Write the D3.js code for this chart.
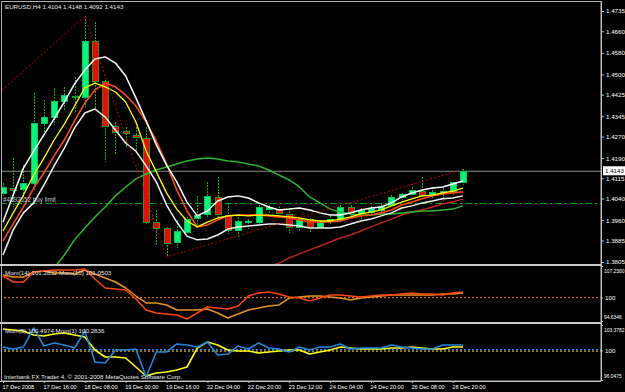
<!DOCTYPE html>
<html><head><meta charset="utf-8">
<script src="https://cdn.jsdelivr.net/npm/d3@7/dist/d3.min.js"></script>
<style>html,body{margin:0;padding:0;background:#000;}svg{display:block;}</style>
</head><body><svg id="c" width="625" height="392"></svg>
<script>
// ---------- DATA ----------
const timeLabels = ["17 Dec 2008","17 Dec 16:00","18 Dec 08:00","19 Dec 00:00","19 Dec 16:00","22 Dec 04:00","22 Dec 20:00","23 Dec 12:00","24 Dec 04:00","24 Dec 20:00","26 Dec 08:00","28 Dec 20:00"];
const timeTickBars = [0,4,8,12,16,20,24,28,32,36,40,44];
const priceTicks = [1.4735,1.4660,1.4580,1.4500,1.4425,1.4345,1.4270,1.4190,1.4115,1.4040,1.3960,1.3885,1.3805];

const opens = [1.4061,1.4079,1.4076,1.4098,1.4320,1.4342,1.4402,1.4420,1.4416,1.4624,1.4476,1.4309,1.4290,1.4276,1.4265,1.3953,1.3931,1.3879,1.3916,1.3968,1.3983,1.4046,1.3979,1.3924,1.3953,1.3953,1.4001,1.4001,1.3983,1.3935,1.3964,1.3935,1.3957,1.3961,1.4009,1.3987,1.3990,1.3998,1.4016,1.4046,1.4057,1.4068,1.4057,1.4061,1.4064,1.4104];
const highs = [1.4098,1.4190,1.4164,1.4431,1.4405,1.4450,1.4453,1.4491,1.4716,1.4694,1.4479,1.4324,1.4305,1.4305,1.4305,1.3998,1.3935,1.3961,1.3972,1.4050,1.4101,1.4120,1.4024,1.3972,1.3964,1.4016,1.4016,1.4012,1.4005,1.3972,1.3968,1.3961,1.3975,1.4016,1.4016,1.4005,1.4012,1.4020,1.4053,1.4061,1.4083,1.4120,1.4083,1.4079,1.4101,1.4148];
const lows = [1.4050,1.4009,1.4046,1.4072,1.4287,1.4313,1.4368,1.4357,1.4379,1.4368,1.4176,1.4202,1.4231,1.4220,1.3946,1.3868,1.3824,1.3857,1.3913,1.3935,1.3972,1.3972,1.3909,1.3898,1.3927,1.3946,1.3987,1.3968,1.3913,1.3916,1.3913,1.3931,1.3942,1.3953,1.3972,1.3961,1.3983,1.3987,1.4009,1.4035,1.4053,1.4042,1.4042,1.4031,1.4053,1.4092];
const closes = [1.4083,1.4072,1.4098,1.4320,1.4342,1.4402,1.4424,1.4416,1.4624,1.4476,1.4309,1.4287,1.4283,1.4268,1.3953,1.3931,1.3875,1.3920,1.3964,1.3979,1.4050,1.3983,1.3924,1.3957,1.3958,1.4009,1.4009,1.3987,1.3935,1.3964,1.3935,1.3953,1.3964,1.4009,1.3990,1.3998,1.4005,1.4012,1.4046,1.4057,1.4072,1.4053,1.4064,1.4068,1.4101,1.4143];

const envUpper = [1.3953,1.4053,1.4153,1.4216,1.4276,1.4335,1.4398,1.4465,1.4516,1.4557,1.4565,1.4542,1.4494,1.4413,1.4328,1.4239,1.4164,1.4102,1.4027,1.3976,1.3994,1.4031,1.4046,1.4050,1.4042,1.4024,1.4009,1.3998,1.4001,1.4005,1.3998,1.3987,1.3979,1.3979,1.3987,1.3998,1.4005,1.4009,1.4024,1.4046,1.4061,1.4072,1.4079,1.4083,1.4094,1.4105];
const envLower = [1.3831,1.3924,1.3987,1.4024,1.4090,1.4161,1.4227,1.4302,1.4357,1.4372,1.4342,1.4294,1.4246,1.4216,1.4161,1.4102,1.4016,1.3953,1.3901,1.3887,1.3890,1.3905,1.3927,1.3935,1.3938,1.3942,1.3946,1.3946,1.3942,1.3938,1.3931,1.3931,1.3931,1.3935,1.3946,1.3957,1.3964,1.3976,1.3987,1.4005,1.4013,1.4024,1.4031,1.4039,1.4042,1.4050];
const maYellow = [1.3920,1.3987,1.4053,1.4127,1.4190,1.4257,1.4316,1.4383,1.4450,1.4468,1.4454,1.4435,1.4398,1.4324,1.4216,1.4139,1.4061,1.4001,1.3957,1.3935,1.3953,1.3968,1.3976,1.3979,1.3976,1.3979,1.3979,1.3976,1.3972,1.3968,1.3961,1.3957,1.3957,1.3964,1.3972,1.3983,1.3990,1.3998,1.4013,1.4027,1.4039,1.4050,1.4053,1.4061,1.4068,1.4079];
const maOrange = [1.3883,1.3946,1.4009,1.4079,1.4135,1.4198,1.4257,1.4328,1.4394,1.4442,1.4468,1.4454,1.4424,1.4383,1.4324,1.4253,1.4168,1.4072,1.3994,1.3935,1.3942,1.3961,1.3976,1.3979,1.3979,1.3979,1.3976,1.3972,1.3968,1.3961,1.3953,1.3953,1.3953,1.3957,1.3968,1.3976,1.3979,1.3987,1.3998,1.4016,1.4027,1.4039,1.4050,1.4057,1.4061,1.4065];
const maGreenStart = 5;
const maGreen = [1.3783,1.3831,1.3887,1.3931,1.3972,1.4009,1.4050,1.4083,1.4113,1.4131,1.4146,1.4157,1.4168,1.4179,1.4187,1.4190,1.4187,1.4179,1.4176,1.4168,1.4161,1.4146,1.4127,1.4109,1.4083,1.4046,1.4024,1.4001,1.3990,1.3983,1.3979,1.3979,1.3983,1.3983,1.3987,1.3990,1.3994,1.3994,1.3998,1.4001,1.4013];
const maDarkRedStart = 26;
const maDarkRed = [1.3787,1.3801,1.3820,1.3835,1.3850,1.3864,1.3879,1.3894,1.3905,1.3920,1.3935,1.3950,1.3964,1.3979,1.3990,1.3998,1.4009,1.4020,1.4027,1.4039];
const zigzagBars = [-10, 8, 16, 45];
const zigzagPrices = [1.4105, 1.4716, 1.3824, 1.4148];
const bidPrice = 1.4143;
const buyLimitPrice = 1.4025;

const mom14 = [104.94,103.57,103.57,105.86,106.09,106.31,106.31,106.31,106.54,104.25,102.19,101.96,101.73,99.67,97.15,96.47,96.24,96.01,95.09,96.47,97.84,97.61,97.38,98.07,100.36,101.05,101.28,100.82,100.13,99.90,99.21,99.90,100.59,100.59,100.36,100.13,100.36,100.59,100.59,100.82,101.05,100.82,100.82,100.59,101.05,101.28];
const mom10 = [105.17,104.71,104.71,105.86,106.09,105.63,105.63,105.40,106.31,105.40,104.48,103.57,102.19,100.36,98.76,98.76,98.30,97.15,97.15,97.15,97.38,96.47,95.32,96.24,97.15,97.61,98.07,98.30,99.90,100.13,100.36,100.36,100.13,99.90,99.44,99.90,100.13,100.36,100.59,100.59,100.59,100.59,100.59,100.82,100.82,101.05];
const mom1 = [100.45,100.18,100.45,102.98,100.58,100.98,100.71,100.31,102.58,98.45,98.31,100.05,100.05,100.18,96.45,99.78,99.78,100.85,100.71,100.45,101.11,99.38,99.51,100.58,100.18,100.98,100.31,100.18,99.78,100.45,100.05,100.45,100.45,100.85,100.18,100.31,100.31,100.31,100.71,100.45,100.31,100.18,100.18,100.71,100.71,100.71];
const mom5 = [102.85,102.71,102.58,102.05,101.91,102.18,102.31,102.05,101.78,100.05,99.11,99.11,98.98,97.78,96.58,96.98,97.11,97.38,97.78,100.31,101.11,100.71,100.05,99.91,99.91,99.65,99.78,99.91,100.05,100.05,99.51,99.78,100.05,100.45,100.31,100.18,100.18,100.18,100.31,100.31,100.45,100.31,100.18,100.18,100.45,100.45];
const p1Ticks = [107.2300, 100, 94.6346];
const p2Ticks = [103.3782, 100, 96.0475];
const p2Levels = [100.1, 99.9];

// ---------- DRAW ----------
const svg = d3.select("#c");
const FONT = "'Liberation Sans', Arial, sans-serif";
const AX = 601;
const x = d3.scaleLinear().domain([0, 45]).range([3, 463]);
const y = d3.scaleLinear().domain([1.3805, 1.4735]).range([262, 11]);
const y1 = d3.scaleLinear().domain([94.6346, 107.23]).range([321, 266]);
const y2 = d3.scaleLinear().domain([96.0475, 103.3782]).range([380, 325]);

svg.append("rect").attr("width", 625).attr("height", 392).attr("fill", "#000");
const defs = svg.append("defs");
function clip(id, x0, y0, w, h) {
  defs.append("clipPath").attr("id", id).append("rect").attr("x", x0).attr("y", y0).attr("width", w).attr("height", h);
}
clip("cm", 2, 3, AX - 2, 261);
clip("c1", 2, 266, AX - 2, 56);
clip("c2", 2, 324, AX - 2, 56);

const main = svg.append("g").attr("clip-path", "url(#cm)");

// bid line & buy limit
main.append("line").attr("x1", 0).attr("x2", AX).attr("y1", y(bidPrice) + 0.5).attr("y2", y(bidPrice) + 0.5)
  .attr("stroke", "#8c8c8c").attr("stroke-width", 1);
main.append("line").attr("x1", 0).attr("x2", AX).attr("y1", Math.round(y(buyLimitPrice)) + 0.5).attr("y2", Math.round(y(buyLimitPrice)) + 0.5)
  .attr("stroke", "#00a000").attr("stroke-width", 1).attr("stroke-dasharray", "7,3,2,3");

const idx = d3.range(opens.length);
// candles
const cg = main.append("g").attr("shape-rendering", "crispEdges");
cg.selectAll(".wick").data(idx).join("line")
  .attr("x1", i => Math.round(x(i)) + 0.5).attr("x2", i => Math.round(x(i)) + 0.5)
  .attr("y1", i => y(highs[i])).attr("y2", i => y(lows[i]))
  .attr("stroke", "#10b010").attr("stroke-width", 1).attr("stroke-dasharray", "2,1");
cg.selectAll(".body").data(idx).join("rect")
  .attr("x", i => Math.round(x(i)) - 3 + 0.5)
  .attr("y", i => Math.round(y(Math.max(opens[i], closes[i]))) + 0.5)
  .attr("width", 6)
  .attr("height", i => Math.max(1, Math.round(Math.abs(y(opens[i]) - y(closes[i])))))
  .attr("fill", i => closes[i] >= opens[i] ? "#00f878" : "#ff0000")
  .attr("stroke", i => closes[i] >= opens[i] ? "#00c858" : "#18a018")
  .attr("stroke-width", 1);

// MA lines
function drawLine(g, arr, start, sc, color, w, dash) {
  const ln = d3.line().x((d, k) => x(k + start)).y(d => sc(d));
  const p = g.append("path").datum(arr).attr("d", ln).attr("fill", "none")
    .attr("stroke", color).attr("stroke-width", w).attr("stroke-linejoin", "round");
  if (dash) p.attr("stroke-dasharray", dash);
  return p;
}
drawLine(main, maDarkRed, maDarkRedStart, y, "#c02020", 1.5);
drawLine(main, maGreen, maGreenStart, y, "#2cb82c", 1.5);
drawLine(main, envLower, 0, y, "#f0f0f0", 1.5);
drawLine(main, maOrange, 0, y, "#ff4a10", 1.6);
drawLine(main, maYellow, 0, y, "#ffff00", 1.3);
drawLine(main, envUpper, 0, y, "#ffffff", 1.5);
// zigzag
main.append("path").datum(zigzagBars.map((b, k) => [b, zigzagPrices[k]]))
  .attr("d", d3.line().x(d => x(d[0])).y(d => y(d[1])))
  .attr("fill", "none").attr("stroke", "#c00000").attr("stroke-width", 1).attr("stroke-dasharray", "2,2");

main.append("text").attr("x", 3).attr("y", Math.round(y(buyLimitPrice)) - 1)
  .attr("fill", "#b8c4d0").attr("font-family", FONT).attr("font-size", 6.3)
  .text("#4892552 buy limit");

// panel 1
const g1 = svg.append("g").attr("clip-path", "url(#c1)");
g1.append("line").attr("x1", 0).attr("x2", AX).attr("y1", y1(100)).attr("y2", y1(100))
  .attr("stroke", "#d87018").attr("stroke-width", 1.2).attr("stroke-dasharray", "2,2");
drawLine(g1, mom10, 0, y1, "#e8941c", 1.5);
drawLine(g1, mom14, 0, y1, "#ff4410", 1.5);

// panel 2
const g2 = svg.append("g").attr("clip-path", "url(#c2)");
g2.append("line").attr("x1", 0).attr("x2", AX).attr("y1", y2(p2Levels[0])).attr("y2", y2(p2Levels[0]))
  .attr("stroke", "#2c8ce8").attr("stroke-width", 1.2).attr("stroke-dasharray", "2,2");
g2.append("line").attr("x1", 0).attr("x2", AX).attr("y1", y2(p2Levels[1])).attr("y2", y2(p2Levels[1]))
  .attr("stroke", "#d0b000").attr("stroke-width", 1.2).attr("stroke-dasharray", "2,2");
drawLine(g2, mom5, 0, y2, "#ffff10", 1.6);
drawLine(g2, mom1, 0, y2, "#1e88e0", 1.6);

// frame & separators
svg.append("rect").attr("x", 1.5).attr("y", 1.5).attr("width", AX - 1.5).attr("height", 379.5)
  .attr("fill", "none").attr("stroke", "#b0b0b0").attr("stroke-width", 1);
svg.append("rect").attr("x", 0).attr("y", 264).attr("width", AX).attr("height", 2).attr("fill", "#c8c8c8");
svg.append("rect").attr("x", 0).attr("y", 322).attr("width", AX).attr("height", 2).attr("fill", "#c8c8c8");

// axes
function styleAxis(g, size) {
  g.select(".domain").remove();
  g.selectAll("line").attr("stroke", "#c0c0c0");
  g.selectAll("text").attr("fill", "#ffffff").attr("font-family", FONT).attr("font-size", size);
}
const ay = svg.append("g").attr("transform", `translate(${AX},0)`)
  .call(d3.axisRight(y).tickValues(priceTicks).tickFormat(d3.format(".4f")).tickSize(3).tickPadding(2));
styleAxis(ay, 6.2);

const fmtP = d => d === 100 ? "100" : d3.format(".4f")(d);
function panelAxis(sc, ticks) {
  const g = svg.append("g").attr("transform", `translate(${AX},0)`)
    .call(d3.axisRight(sc).tickValues(ticks).tickFormat(fmtP).tickSize(2).tickPadding(1));
  styleAxis(g, 6.2);
  g.selectAll(".tick text")
    .attr("font-size", d => d === 100 ? 6.2 : 4.9)
    .attr("x", d => d === 100 ? 4 : 3)
    .attr("dy", (d, k) => k === 0 ? "1.3em" : (k === 2 ? "-0.5em" : "0.32em"));
  return g;
}
panelAxis(y1, p1Ticks);
panelAxis(y2, p2Ticks);

svg.append("line").attr("x1", AX + 0.5).attr("x2", AX + 0.5).attr("y1", 1).attr("y2", 381)
  .attr("stroke", "#c0c0c0").attr("stroke-width", 1);

const ax = svg.append("g").attr("transform", "translate(0,381)")
  .call(d3.axisBottom(x).tickValues(timeTickBars).tickFormat((d, k) => timeLabels[k]).tickSize(2).tickPadding(2));
styleAxis(ax, 5.6);
ax.selectAll(".tick text").attr("text-anchor", "start").attr("dx", "-1");
ax.append("line").attr("x1", 0).attr("x2", AX).attr("y1", 0.5).attr("y2", 0.5).attr("stroke", "#c0c0c0");

// bid tag
const by = y(bidPrice);
svg.append("rect").attr("x", AX + 2).attr("y", by - 4.5).attr("width", 22).attr("height", 9).attr("fill", "#ffffff");
svg.append("text").attr("x", AX + 4).attr("y", by + 2.3).attr("fill", "#000").attr("font-family", FONT).attr("font-size", 6.2)
  .text(d3.format(".4f")(bidPrice));

// titles
function label(t, xx, yy) {
  svg.append("text").attr("x", xx).attr("y", yy).attr("fill", "#e8e8e8").attr("font-family", FONT).attr("font-size", 6.2).text(t);
}
label("EURUSD,H4  " + [opens[45], highs[45], lows[45], closes[45]].map(d3.format(".4f")).join(" "), 5, 9);
label("Mom(14) 101.2832  Mom(10) 101.0503", 5, 275);
label("Mom(5) 100.4974  Mom(1) 100.2836", 5, 332.5);
label("Interbank FX Trader 4, © 2001-2008 MetaQuotes Software Corp.", 4, 378.5);
</script></body></html>
